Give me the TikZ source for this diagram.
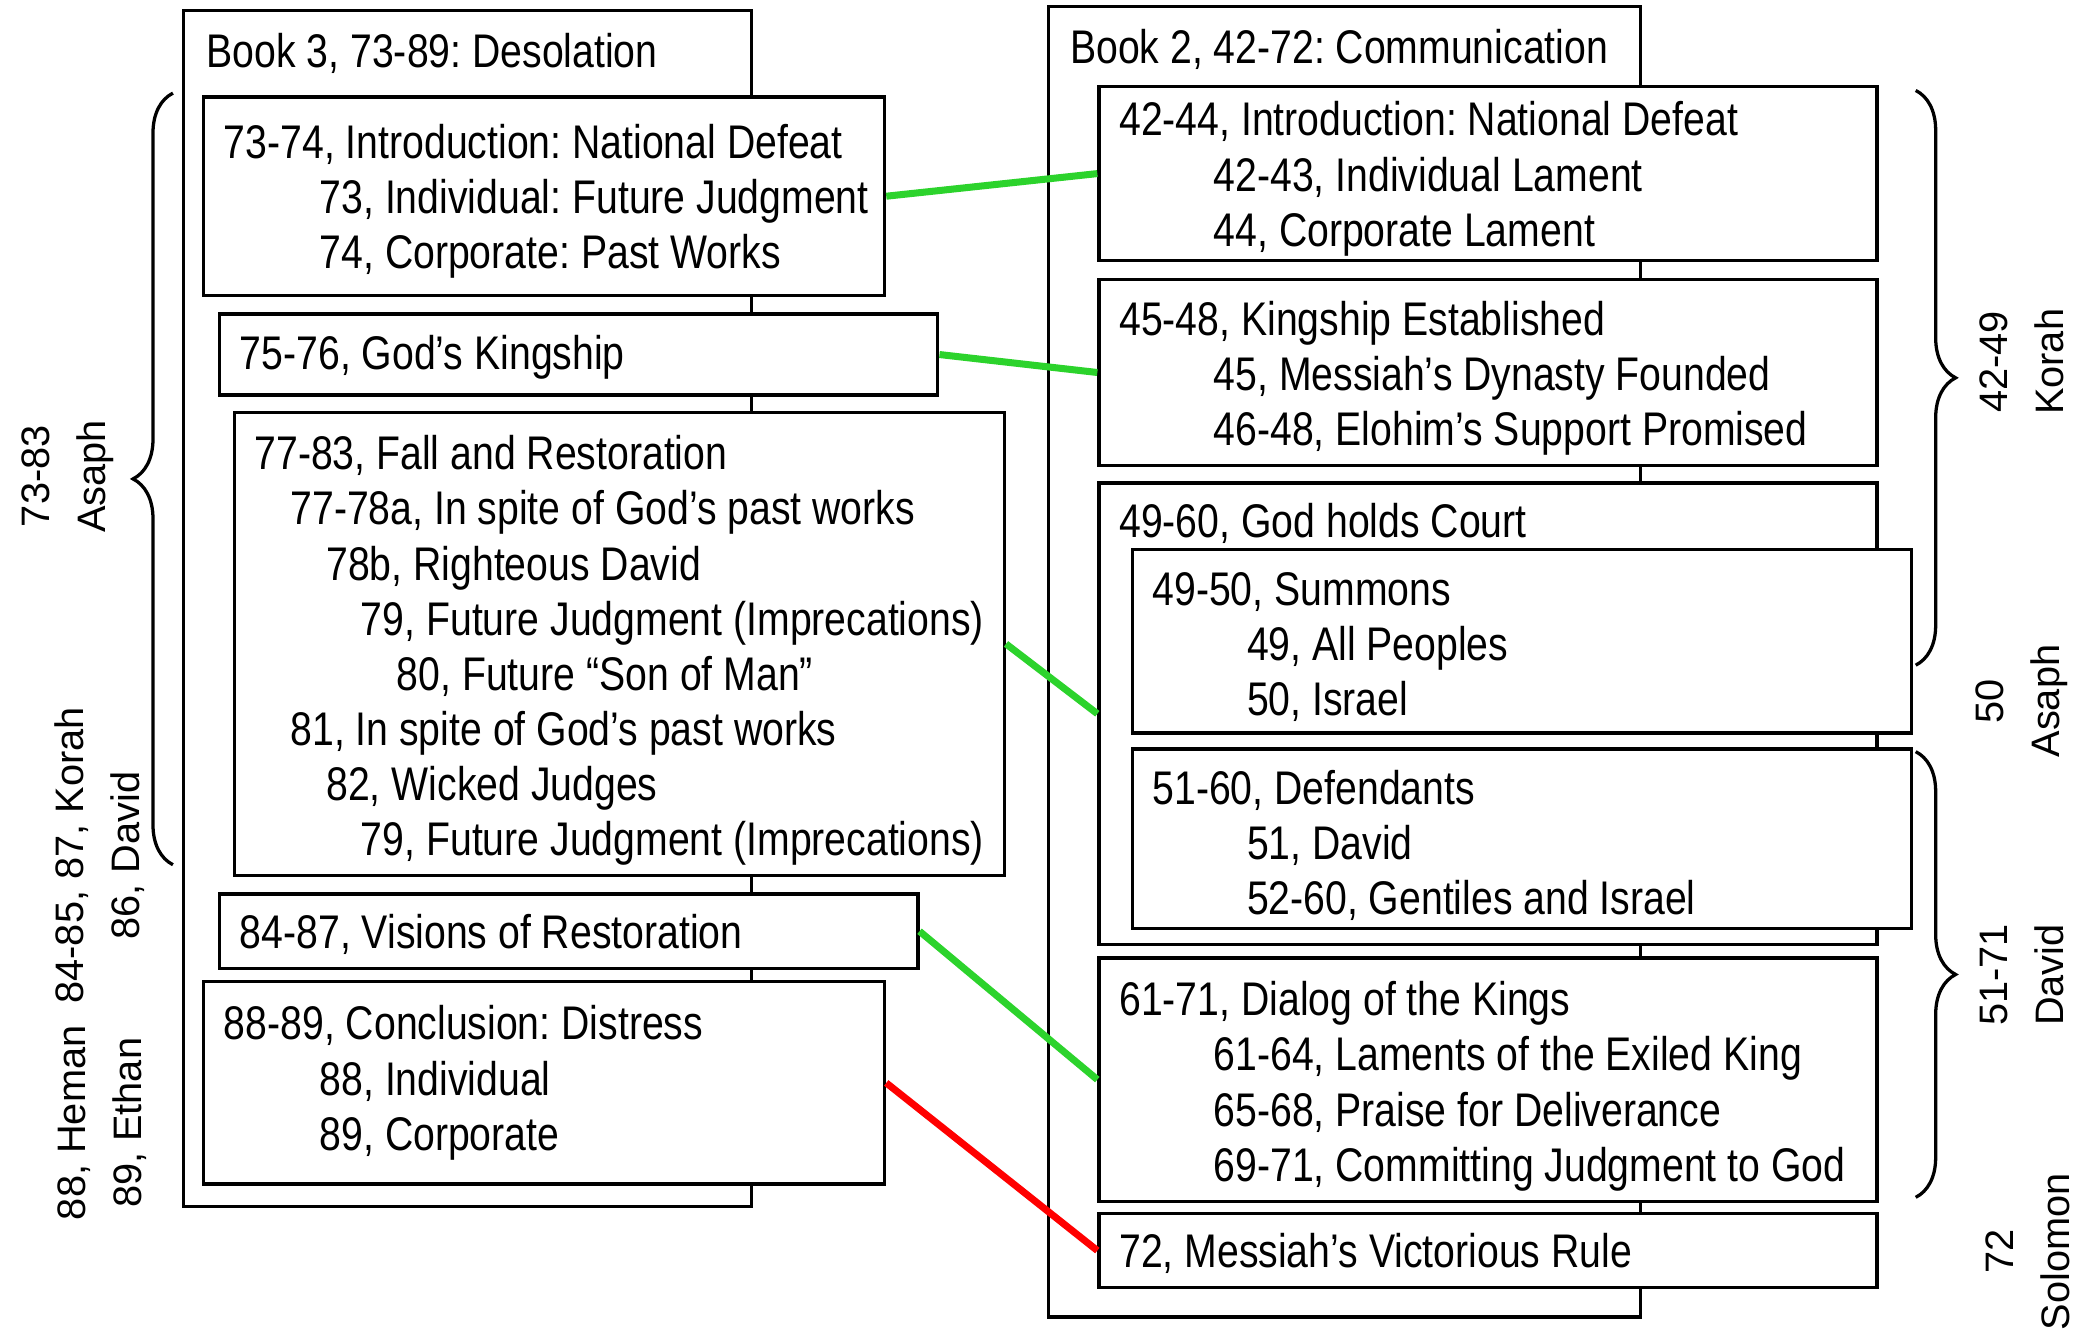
\documentclass[tikz,border=0pt]{standalone}
\usepackage{fontspec}
\setmainfont{Liberation Sans}
\newfontfamily\narrowsans{Liberation Sans}[FakeStretch=0.83]
\usetikzlibrary{decorations.pathreplacing}
\definecolor{linkgreen}{RGB}{44,211,44}
\definecolor{linkred}{RGB}{255,0,0}
\frenchspacing

\begin{document}
\begin{tikzpicture}[x=0.02cm, y=-0.02cm,
    box/.style={draw, line width=1.4pt, fill=white, inner sep=0pt},
    txt/.style={anchor=west, align=left, inner sep=0pt, font=\narrowsans\fontsize{20.2}{23.6}\selectfont},
    head/.style={anchor=base west, inner sep=0pt, font=\narrowsans\fontsize{20.2}{23.6}\selectfont},
    side/.style={rotate=90, align=center, inner sep=0pt, font=\fontsize{17}{23.9}\selectfont},
    link/.style={line width=3pt, linkgreen},
    brace/.style={decorate, decoration={brace, amplitude=0.6cm}, line width=1.4pt}]
    \useasboundingbox (0,0) rectangle (1568,1003);

    \node[box, minimum width=8.54cm, minimum height=17.98cm] (book3) at (351.5,457.5) {};
    \node[head] (book3t) at (155,51) {Book 3, 73-89: Desolation};
    \node[box, minimum width=10.24cm, minimum height=2.98cm] (b73) at (409,147.5) {};
    \node[txt] (t73) at (168,151.5) {73-74, Introduction: National Defeat\\
        \hspace*{1.44cm}73, Individual: Future Judgment\\
        \hspace*{1.44cm}74, Corporate: Past Works};
    \node[box, minimum width=10.8cm, minimum height=1.22cm] (b75) at (435,266.5) {};
    \node[txt] (t75) at (180,268.5) {75-76, God’s Kingship};
    \node[box, minimum width=11.58cm, minimum height=6.96cm] (b77) at (465.5,484) {};
    \node[txt] (t77) at (191,489) {77-83, Fall and Restoration\\
        \hspace*{0.54cm}77-78a, In spite of God’s past works\\
        \hspace*{1.08cm}78b, Righteous David\\
        \hspace*{1.6cm}79, Future Judgment (Imprecations)\\
        \hspace*{2.14cm}80, Future “Son of Man”\\
        \hspace*{0.54cm}81, In spite of God’s past works\\
        \hspace*{1.08cm}82, Wicked Judges\\
        \hspace*{1.6cm}79, Future Judgment (Imprecations)};
    \node[box, minimum width=10.5cm, minimum height=1.12cm] (b84) at (427.5,700) {};
    \node[txt] (t84) at (180,702) {84-87, Visions of Restoration};
    \node[box, minimum width=10.24cm, minimum height=3.04cm] (b88) at (409,814) {};
    \node[txt] (t88) at (168,814) {88-89, Conclusion: Distress\\
        \hspace*{1.44cm}88, Individual\\
        \hspace*{1.44cm}89, Corporate};

    \node[box, minimum width=8.9cm, minimum height=19.7cm] (book2) at (1010.5,497.5) {};
    \node[head] (book2t) at (804,48) {Book 2, 42-72: Communication};
    \node[box, minimum width=11.7cm, minimum height=2.62cm] (b42) at (1118.5,130.5) {};
    \node[txt] (t42) at (841,134.5) {42-44, Introduction: National Defeat\\
        \hspace*{1.42cm}42-43, Individual Lament\\
        \hspace*{1.42cm}44, Corporate Lament};
    \node[box, minimum width=11.7cm, minimum height=2.8cm] (b45) at (1118.5,280) {};
    \node[txt] (t45) at (841,284.5) {45-48, Kingship Established\\
        \hspace*{1.42cm}45, Messiah’s Dynasty Founded\\
        \hspace*{1.42cm}46-48, Elohim’s Support Promised};
    \node[box, minimum width=11.7cm, minimum height=6.94cm] (b49) at (1118.5,536.5) {};
    \node[head] (t49) at (841,404) {49-60, God holds Court};
    \node[box, minimum width=11.72cm, minimum height=2.76cm] (b50) at (1144,482) {};
    \node[txt] (t50) at (866,486.5) {49-50, Summons\\
        \hspace*{1.42cm}49, All Peoples\\
        \hspace*{1.42cm}50, Israel};
    \node[box, minimum width=11.72cm, minimum height=2.7cm] (b51) at (1144,630.5) {};
    \node[txt] (t51) at (866,635.5) {51-60, Defendants\\
        \hspace*{1.42cm}51, David\\
        \hspace*{1.42cm}52-60, Gentiles and Israel};
    \node[box, minimum width=11.7cm, minimum height=3.66cm] (b61) at (1118.5,811.5) {};
    \node[txt] (t61) at (841,816.5) {61-71, Dialog of the Kings\\
        \hspace*{1.42cm}61-64, Laments of the Exiled King\\
        \hspace*{1.42cm}65-68, Praise for Deliverance\\
        \hspace*{1.42cm}69-71, Committing Judgment to God};
    \node[box, minimum width=11.7cm, minimum height=1.12cm] (b72) at (1118.5,940) {};
    \node[txt] (t72) at (841,942) {72, Messiah’s Victorious Rule};

    \draw[link] (b73.east) -- (b42.west);
    \draw[link] (b75.east) -- (b45.west);
    \draw[link] (b77.east) -- (b49.west);
    \draw[link] (b84.east) -- (b61.west);
    \draw[line width=3pt, linkred] (b88.east) -- (b72.west);

    \coordinate (asaphtop) at (130,70);
    \coordinate (asaphbot) at (130,650);
    \coordinate (korahtop) at (1440,68);
    \coordinate (korahbot) at (1440,500);
    \coordinate (davidtop) at (1440,565);
    \coordinate (davidbot) at (1440,900);
    \draw[brace] (asaphbot) -- (asaphtop);
    \draw[brace] (korahtop) -- (korahbot);
    \draw[brace] (davidtop) -- (davidbot);

    \node[side] (lasaph) at (51,358) {73-83\\Asaph};
    \node[side] (lkorah) at (75,643) {84-85, 87, Korah\\86, David};
    \node[side] (lheman) at (77,844) {88, Heman\\89, Ethan};
    \node[side] (rkorah) at (1520,272) {42-49\\Korah};
    \node[side] (rasaph) at (1520,527) {50\\Asaph};
    \node[side] (rdavid) at (1520,733) {51-71\\David};
    \node[side] (rsolomon) at (1524,941) {72\\Solomon};
\end{tikzpicture}
\end{document}
